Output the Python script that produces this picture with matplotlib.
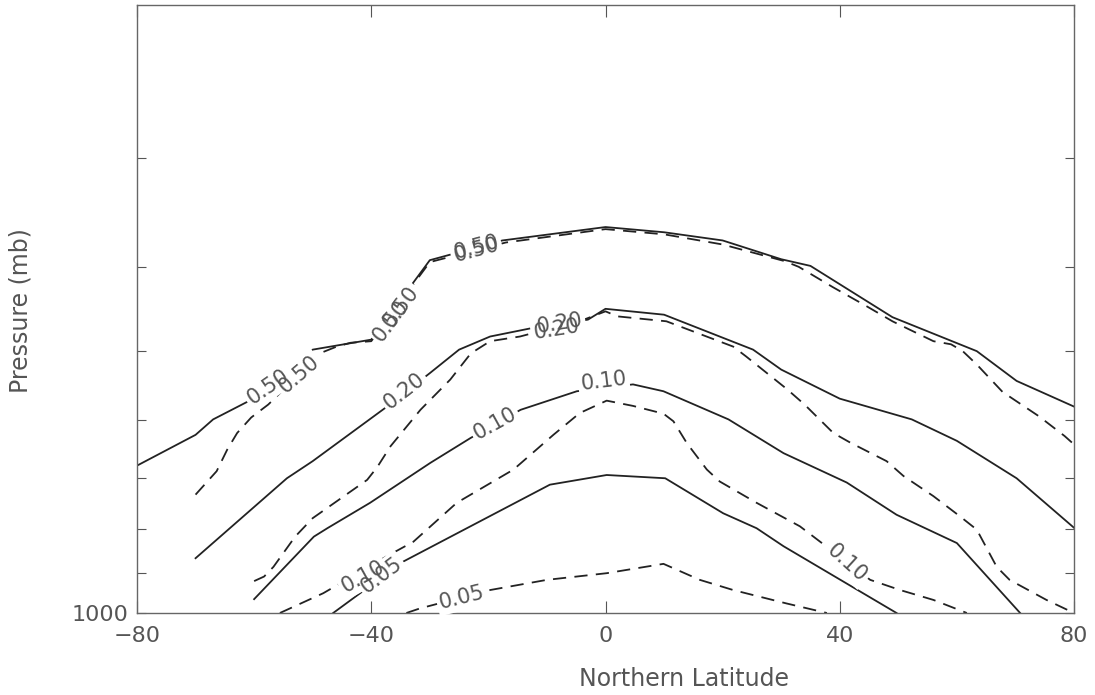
import matplotlib

matplotlib.use("Agg")
import matplotlib.pyplot as plt
from matplotlib.ticker import FixedLocator, FixedFormatter, NullFormatter

# solid contours
S50_LAT = [-80, -70, -67, -61, -54, -50, -40, -30, -17.6, 0, 10, 20, 30, 35, 49, 63.4, 70.2, 80]
S50_P = [677, 624, 599, 571, 529, 498, 485, 393, 373, 360, 365, 373, 392, 399, 457, 500, 541, 579]
S20_LAT = [-70, -54.4, -50, -37.3, -30, -25, -19.7, -12.3, -3, 0, 10, 25.2, 30, 40, 52.3, 60, 70.2, 80]
S20_P = [865, 700, 669, 579, 530, 498, 481, 470, 460, 447, 454, 498, 525, 567, 599, 634, 700, 798]
S10_LAT = [-60, -49.8, -47.5, -40.2, -29.9, -23, -14.5, -4.9, 4.7, 9.9, 21, 30.4, 41.2, 49.7, 60, 70.8]
S10_P = [964, 817, 799, 747, 672, 629, 584, 556, 546, 556, 599, 655, 708, 771, 831, 1000]
S05_LAT = [-46.5, -41.9, -35, -9.5, 0.2, 10.2, 20.1, 25.8, 30.4, 49.7]
S05_P = [1000, 949, 876, 712, 694, 700, 768, 799, 838, 1000]

# dashed contours
D50_LAT = [-70, -66.4, -64.6, -62.9, -60.5, -57.6, -48.5, -45.9, -43.5, -40, -30, -17, 0, 10, 20,
           30.6, 33, 38.8, 44.6, 49, 56, 59, 61, 63.4, 67.8, 74, 78.4, 80]
D50_P = [731, 687, 649, 621, 596, 576, 502, 494, 489, 487, 395, 375, 362, 367, 377,
         394, 400, 422, 444, 462, 487, 491, 500, 518, 557, 594, 626, 640]
D20_LAT = [-60, -58.3, -56.7, -53, -50, -45.9, -40.7, -39, -36.7, -31.6, -26.5, -23, -19.7, -14.6,
           -3.7, 0, 2, 10.4, 21.8, 24, 31, 34, 38.9, 41.8, 48, 50.9, 56, 60.5, 63.4, 66.8, 69, 75.3, 80]
D20_P = [919, 908, 885, 817, 778, 744, 703, 680, 643, 584, 539, 503, 487, 481,
         460, 450, 456, 462, 494, 507, 553, 576, 621, 637, 669, 696, 734, 774, 802, 885, 916, 966, 1000]
D10_LAT = [-55.6, -48.2, -37.4, -32.8, -25.4, -15.7, -8.9, -4.4, 0.2, 4.7, 9.9, 11.6, 13.9, 17.3,
           19.5, 25.8, 33.2, 45.2, 50.3, 56, 61.7]
D10_P = [1000, 949, 861, 828, 747, 684, 624, 589, 570, 578, 590, 602, 638, 684,
         706, 747, 795, 916, 941, 966, 1000]
D05_LAT = [-34, -31.7, -19.7, -10, 0.2, 9.9, 16.1, 21.8, 30.9, 37.8]
D05_P = [1000, 988, 941, 916, 900, 878, 916, 941, 975, 1000]

# contour labels: text, latitude, pressure, on-screen angle
LABELS = [
    ("0.50", -57.6, 550, 35),
    ("0.50", -52.3, 532, 41),
    ("0.50", -36.6, 461, 53),
    ("0.50", -34.9, 445, 53),
    ("0.50", -22.1, 380, 15),
    ("0.50", -22.1, 383, 15),
    ("0.20", -34.3, 556, 38),
    ("0.20", -7.8, 465, 9),
    ("0.20", -8.4, 472, 9),
    ("0.10", -18.9, 605, 29),
    ("0.10", -0.3, 542, 7),
    ("0.10", -41.4, 909, 29),
    ("0.10", 41.2, 877, -42),
    ("0.05", -38.3, 904, 37),
    ("0.05", -24.5, 961, 14),
]

P_MINOR = [300, 400, 500, 600, 700, 800, 900]

LINE = "#222222"
TEXT = "#555555"
plt.rcParams["lines.scale_dashes"] = False

fig = plt.figure(figsize=(10.95, 6.95), dpi=100)
ax = fig.add_axes([137 / 1095, 82 / 695, 937 / 1095, 608 / 695])

solid = [(S50_LAT, S50_P), (S20_LAT, S20_P), (S10_LAT, S10_P), (S05_LAT, S05_P)]
dashed = [(D50_LAT, D50_P), (D20_LAT, D20_P), (D10_LAT, D10_P), (D05_LAT, D05_P)]
for lat, p in solid:
    ax.plot(lat, p, color=LINE, lw=1.3, zorder=2)
for lat, p in dashed:
    ax.plot(lat, p, color=LINE, lw=1.3, dashes=(9.5, 6.0), zorder=2)

for txt, lat, p, ang in LABELS:
    ax.text(lat, p, txt, rotation=ang, rotation_mode="anchor", ha="center", va="center",
            fontsize=15, color="white", zorder=3,
            bbox=dict(boxstyle="square,pad=0.12", fc="white", ec="none"))
for txt, lat, p, ang in LABELS:
    ax.text(lat, p, txt, rotation=ang, rotation_mode="anchor", ha="center", va="center",
            fontsize=15, color=TEXT, zorder=4)

ax.set_xlim(-80, 80)
ax.set_yscale("log")
ax.set_ylim(1000, 200)
ax.set_xticks([-80, -40, 0, 40, 80])
ax.yaxis.set_major_locator(FixedLocator([1000]))
ax.yaxis.set_major_formatter(FixedFormatter(["1000"]))
ax.yaxis.set_minor_locator(FixedLocator(P_MINOR))
ax.yaxis.set_minor_formatter(NullFormatter())

ax.tick_params(axis="x", which="major", direction="in", length=8.6, width=0.8,
               top=True, colors=TEXT, labelsize=16, pad=9.5)
ax.tick_params(axis="y", which="both", direction="in", length=6.5, width=0.8,
               right=True, colors=TEXT, labelsize=16, pad=6.5)
for s in ax.spines.values():
    s.set_color("#666666")
    s.set_linewidth(1.0)

fig.text(21 / 1095, 1 - 311 / 695, "Pressure (mb)", rotation=90, ha="center", va="center",
         fontsize=17, color=TEXT)
fig.text(684 / 1095, 1 - 686 / 695, "Northern Latitude", ha="center", va="baseline",
         fontsize=17, color=TEXT)

fig.savefig("out.png", dpi=100)
